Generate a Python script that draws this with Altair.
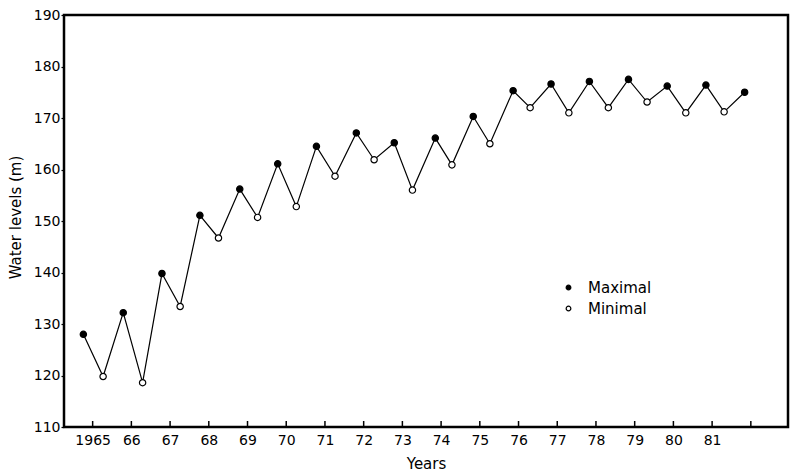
import altair as alt
import pandas as pd

# Maximal (filled) water levels: fractional year, level (m)
max_years = [1964.76, 1965.79, 1966.79, 1967.77, 1968.80, 1969.78, 1970.78, 1971.81, 1972.79,
             1973.85, 1974.83, 1975.86, 1976.84, 1977.83, 1978.84, 1979.84, 1980.84, 1981.84]
max_levels = [128.0, 132.2, 139.8, 151.1, 156.2, 161.1, 164.5, 167.1, 165.2,
              166.1, 170.3, 175.3, 176.6, 177.1, 177.5, 176.2, 176.4, 175.0]

# Minimal (open) water levels
min_years = [1965.27, 1966.29, 1967.26, 1968.25, 1969.26, 1970.26, 1971.26, 1972.27, 1973.26,
             1974.28, 1975.26, 1976.30, 1977.30, 1978.32, 1979.32, 1980.32, 1981.31]
min_levels = [119.8, 118.6, 133.4, 146.7, 150.7, 152.8, 158.7, 161.9, 156.0,
              160.9, 165.0, 172.0, 171.0, 172.0, 173.1, 171.0, 171.2]

tick_years = list(range(1965, 1983))
y_ticks = list(range(110, 191, 10))

FONT = "DejaVu Sans"
W, H = 724, 412

rows = [{"year": x, "level": y, "type": "Maximal"} for x, y in zip(max_years, max_levels)]
rows += [{"year": x, "level": y, "type": "Minimal"} for x, y in zip(min_years, min_levels)]
df = pd.DataFrame(rows).sort_values("year").reset_index(drop=True)
df["order"] = range(len(df))

ticks_df = pd.DataFrame({"year": tick_years})

xscale = alt.Scale(domain=[1964.26, 1982.96], nice=False, zero=False)
yscale = alt.Scale(domain=[110, 190], nice=False, zero=False)

x_axis = alt.Axis(
    values=tick_years,
    labelExpr="datum.value == 1965 ? '1965' : (datum.value >= 1982 ? '' : slice(toString(datum.value), 2))",
    ticks=False, tickSize=0, domain=False, grid=False,
    labelFont=FONT, labelFontSize=14, labelColor="black", labelPadding=6,
    labelFlush=False,
    title="Years", titleFont=FONT, titleFontSize=15, titleFontWeight="normal",
    titleColor="black", titleY=36, titleBaseline="middle",
)
y_axis = alt.Axis(
    values=y_ticks,
    ticks=True, tickSize=3, tickWidth=1.2, tickColor="black",
    domain=False, grid=False,
    labelFont=FONT, labelFontSize=14, labelColor="black", labelPadding=1,
    labelFlush=False,
    title="Water levels (m)", titleFont=FONT, titleFontSize=15, titleFontWeight="normal",
    titleColor="black", titleX=-49, titleY=202, titleBaseline="middle", titleAlign="center",
)

base = alt.Chart(df)

line = base.mark_line(color="black", strokeWidth=1.2).encode(
    x=alt.X("year:Q", scale=xscale, axis=x_axis),
    y=alt.Y("level:Q", scale=yscale, axis=y_axis),
    order="order:Q",
)

points = base.mark_point(shape="circle", size=40, strokeWidth=1.2, stroke="black", opacity=1,
                         filled=False).encode(
    x=alt.X("year:Q", scale=xscale),
    y=alt.Y("level:Q", scale=yscale),
    fill=alt.Fill(
        "type:N",
        scale=alt.Scale(domain=["Maximal", "Minimal"], range=["black", "white"]),
        legend=alt.Legend(
            title=None, orient="none", legendX=497, legendY=265, padding=0,
            symbolType="circle", symbolSize=22, symbolStrokeColor="black",
            symbolStrokeWidth=1.2, labelFont=FONT, labelFontSize=15, labelColor="black",
            labelOffset=12, rowPadding=5,
        ),
    ),
)

xticks = alt.Chart(ticks_df).mark_rule(color="black", strokeWidth=1.5).encode(
    x=alt.X("year:Q", scale=xscale),
    y=alt.value(H),
    y2=alt.value(H - 6),
)

chart = alt.layer(xticks, line, points).properties(
    width=W, height=H,
    autosize=alt.AutoSizeParams(type="none"),
    padding={"left": 56, "top": 7, "right": 4, "bottom": 48},
    background="white",
).configure_view(
    stroke="black", strokeWidth=2.5,
)

chart.save("out.html", embed_options={"renderer": "svg", "actions": False})
